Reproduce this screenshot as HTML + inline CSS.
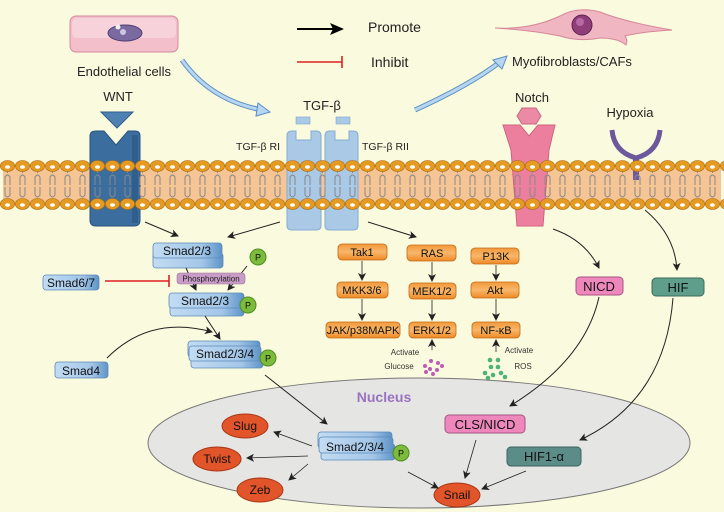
<!DOCTYPE html>
<html><head><meta charset="utf-8"><style>
html,body{margin:0;padding:0;background:#fafade;}
svg{display:block;font-family:"Liberation Sans",sans-serif;}
</style></head><body>
<svg width="724" height="512" viewBox="0 0 724 512" xmlns="http://www.w3.org/2000/svg">
<defs>
<marker id="ah" markerWidth="8" markerHeight="8" refX="7" refY="4" orient="auto" markerUnits="userSpaceOnUse"><path d="M0,0 L8,4 L0,8 L2,4Z" fill="#222"/></marker>
<marker id="ahb" markerWidth="14" markerHeight="12" refX="12" refY="6" orient="auto" markerUnits="userSpaceOnUse"><path d="M0,0 L14,6 L0,12 L3,6Z" fill="#000"/></marker>
<linearGradient id="bl" x1="0" x2="1"><stop offset="0" stop-color="#c2dcf3"/><stop offset="0.7" stop-color="#a3c6e8"/><stop offset="1" stop-color="#5d93c7"/></linearGradient>
<linearGradient id="or" x1="0" y1="0" x2="0" y2="1"><stop offset="0" stop-color="#f39a3a"/><stop offset="0.5" stop-color="#f8b66a"/><stop offset="1" stop-color="#ef8a25"/></linearGradient>
<pattern id="headsT" x="0" y="160" width="15" height="12" patternUnits="userSpaceOnUse"><ellipse cx="7.5" cy="6" rx="7.2" ry="5.5" fill="#e59a22" stroke="#a8680c" stroke-width="0.6"/><ellipse cx="7.5" cy="7" rx="2.5" ry="1.8" fill="#fff"/></pattern>
<pattern id="headsB" x="0" y="198" width="15" height="12" patternUnits="userSpaceOnUse"><ellipse cx="7.5" cy="6" rx="7.2" ry="5.5" fill="#e59a22" stroke="#a8680c" stroke-width="0.6"/><ellipse cx="7.5" cy="7" rx="2.5" ry="1.8" fill="#fff"/></pattern>
<pattern id="tails" x="0" y="171" width="15" height="30" patternUnits="userSpaceOnUse"><path d="M5,14 V6 Q7.5,2 10,6 V14 M7.5,2 V0 M5,16 V24 Q7.5,28 10,24 V16 M7.5,28 V30" stroke="#888" stroke-width="1" fill="none"/></pattern>
</defs>
<rect width="724" height="512" fill="#fafade"/>

<!-- membrane band -->
<rect x="3" y="168" width="718" height="34" fill="#f6c596"/>

<!-- endothelial cell -->
<rect x="70" y="16" width="108" height="36" rx="6" fill="#f2bfcb" stroke="#d58a9c"/>
<rect x="72" y="18" width="104" height="20" rx="5" fill="#f7d2db"/>
<ellipse cx="125" cy="33" rx="17" ry="8" fill="#7a6aa0" stroke="#4d3e73"/>
<circle cx="118" cy="27" r="2.5" fill="#eee"/><circle cx="123" cy="32" r="3" fill="#cdc5e6"/>
<text x="124" y="76" font-size="13" text-anchor="middle" fill="#222">Endothelial cells</text>

<!-- legend -->
<line x1="297" y1="29" x2="342" y2="29" stroke="#000" stroke-width="2" marker-end="url(#ahb)"/>
<text x="368" y="32" font-size="14" fill="#222">Promote</text>
<line x1="297" y1="62" x2="342" y2="62" stroke="#e02020" stroke-width="1.6"/>
<line x1="342" y1="56" x2="342" y2="68" stroke="#e02020" stroke-width="1.6"/>
<text x="371" y="67" font-size="14" fill="#222">Inhibit</text>

<!-- blue curved arrows -->
<path d="M182,60 Q210,100 262,110" stroke="#5d8fc0" stroke-width="5" fill="none"/>
<path d="M182,60 Q210,100 262,110" stroke="#b7d6f2" stroke-width="3" fill="none"/>
<path d="M258,103 L270,112 L256,116Z" fill="#b7d6f2" stroke="#5d8fc0"/>
<path d="M415,110 Q470,85 500,62" stroke="#5d8fc0" stroke-width="5" fill="none"/>
<path d="M415,110 Q470,85 500,62" stroke="#b7d6f2" stroke-width="3" fill="none"/>
<path d="M493,60 L507,56 L502,69Z" fill="#b7d6f2" stroke="#5d8fc0"/>

<!-- myofibroblast -->
<path d="M495,28 Q530,30 560,16 Q578,6 600,12 Q625,22 672,30 Q640,32 625,36 Q628,40 626,45 Q618,38 600,38 Q578,42 560,36 Q530,30 495,28Z" fill="#f0b6c2" stroke="#d5879a"/>
<circle cx="582" cy="25" r="10" fill="#8f3e79" stroke="#5e2250"/>
<circle cx="580" cy="22" r="4" fill="#b56aa3"/>
<text x="512" y="66" font-size="13" fill="#222">Myofibroblasts/CAFs</text>

<!-- WNT -->
<text x="118" y="101" font-size="13" text-anchor="middle" fill="#222">WNT</text>
<path d="M101,112 L133,112 L117,128Z" fill="#4f82b3" stroke="#2d5b8a"/>
<path d="M90,136 Q90,131 96,131 L104,131 L116,145 L128,131 L135,131 Q140,131 140,136 L140,220 Q140,226 134,226 L96,226 Q90,226 90,220Z" fill="#3b6e9f" stroke="#27537e"/>
<rect x="132" y="135" width="6" height="88" fill="#2a5583" opacity="0.6"/>

<!-- TGF-beta receptors -->
<text x="322" y="110" font-size="13" text-anchor="middle" fill="#222">TGF-β</text>
<rect x="296" y="117" width="14" height="7" fill="#a9c9e6" stroke="#7ea6cc" stroke-width="0.6"/>
<rect x="336" y="117" width="14" height="7" fill="#a9c9e6" stroke="#7ea6cc" stroke-width="0.6"/>
<path d="M287,136 Q287,131 292,131 L296,131 L296,140 L311,140 L311,131 L316,131 Q321,131 321,136 L321,226 Q321,230 316,230 L292,230 Q287,230 287,226Z" fill="#a9c9e6" stroke="#86acd2"/>
<path d="M325,136 Q325,131 330,131 L335,131 L335,140 L349,140 L349,131 L353,131 Q358,131 358,136 L358,226 Q358,230 353,230 L330,230 Q325,230 325,226Z" fill="#a9c9e6" stroke="#86acd2"/>
<text x="280" y="150" font-size="10.5" text-anchor="end" fill="#222">TGF-β RI</text>
<text x="362" y="150" font-size="10.5" fill="#222">TGF-β RII</text>

<!-- Notch -->
<text x="532" y="102" font-size="13" text-anchor="middle" fill="#222">Notch</text>
<path d="M522,108 L536,108 L541,116 L536,124 L522,124 L517,116Z" fill="#ec8aa6" stroke="#c86784"/>
<path d="M503,125 L520,125 L529,136 L538,125 L555,125 L549,150 L543,226 L517,226 L511,150Z" fill="#ec7f9e" stroke="#d0637f"/>

<!-- Hypoxia -->
<text x="630" y="117" font-size="13" text-anchor="middle" fill="#222">Hypoxia</text>
<path d="M612,130 Q614,152 636,158 Q658,152 660,130" stroke="#6d589c" stroke-width="5" fill="none"/>
<line x1="636" y1="156" x2="636" y2="180" stroke="#6d589c" stroke-width="6"/>

<!-- membrane tails & heads on top -->
<rect x="3" y="171" width="718" height="30" fill="url(#tails)"/>
<rect x="0" y="160" width="724" height="12" fill="url(#headsT)"/>
<rect x="0" y="198" width="724" height="12" fill="url(#headsB)"/>

<!-- arrows below membrane -->
<line x1="145" y1="222" x2="178" y2="236" stroke="#222" marker-end="url(#ah)"/>
<line x1="280" y1="222" x2="228" y2="237" stroke="#222" marker-end="url(#ah)"/>
<line x1="368" y1="222" x2="416" y2="237" stroke="#222" marker-end="url(#ah)"/>
<path d="M553,229 Q585,240 599,268" stroke="#222" fill="none" marker-end="url(#ah)"/>
<path d="M645,210 Q675,235 677,270" stroke="#222" fill="none" marker-end="url(#ah)"/>

<!-- Smad column -->
<rect x="153" y="253" width="70" height="15" rx="3" fill="url(#bl)" stroke="#5d89b8" stroke-width="0.8"/>
<rect x="153" y="243" width="69" height="15" rx="3" fill="url(#bl)" stroke="#5d89b8" stroke-width="0.8"/>
<text x="187" y="255" font-size="12" text-anchor="middle" fill="#111">Smad2/3</text>
<circle cx="258" cy="257" r="8" fill="#7dbb3c" stroke="#4f8d20"/>
<text x="258" y="260.5" font-size="9" text-anchor="middle" fill="#111">P</text>
<line x1="186" y1="268" x2="196" y2="290" stroke="#222" marker-end="url(#ah)"/>
<line x1="247" y1="266" x2="228" y2="290" stroke="#222" marker-end="url(#ah)"/>
<rect x="177" y="273" width="68" height="11" rx="3" fill="#c99bc7" stroke="#9c6f9a" stroke-width="0.6"/>
<text x="211" y="281.5" font-size="8" text-anchor="middle" fill="#222">Phosphorylation</text>
<rect x="43" y="275" width="56" height="15" rx="3" fill="url(#bl)" stroke="#5d89b8" stroke-width="0.8"/>
<text x="71" y="287" font-size="12" text-anchor="middle" fill="#111">Smad6/7</text>
<line x1="105" y1="281" x2="169" y2="281" stroke="#e02020" stroke-width="1.6"/>
<line x1="169" y1="275" x2="169" y2="287" stroke="#e02020" stroke-width="1.6"/>
<rect x="170" y="302" width="74" height="14" rx="3" fill="url(#bl)" stroke="#5d89b8" stroke-width="0.8"/>
<rect x="169" y="293" width="75" height="15" rx="3" fill="url(#bl)" stroke="#5d89b8" stroke-width="0.8"/>
<text x="205" y="305" font-size="12" text-anchor="middle" fill="#111">Smad2/3</text>
<circle cx="248" cy="305" r="8" fill="#7dbb3c" stroke="#4f8d20"/>
<text x="248" y="308.5" font-size="9" text-anchor="middle" fill="#111">P</text>
<line x1="205" y1="316" x2="220" y2="339" stroke="#222" marker-end="url(#ah)"/>
<path d="M107,358 Q150,315 212,332" stroke="#222" fill="none" marker-end="url(#ah)"/>
<rect x="188" y="341" width="72" height="16" rx="3" fill="url(#bl)" stroke="#5d89b8" stroke-width="0.8"/>
<rect x="191" y="353" width="72" height="15" rx="3" fill="url(#bl)" stroke="#5d89b8" stroke-width="0.8"/>
<rect x="189" y="346" width="72" height="15" rx="3" fill="url(#bl)" stroke="#5d89b8" stroke-width="0.8"/>
<text x="225" y="358" font-size="12" text-anchor="middle" fill="#111">Smad2/3/4</text>
<circle cx="268" cy="358" r="8" fill="#7dbb3c" stroke="#4f8d20"/>
<text x="268" y="361.5" font-size="9" text-anchor="middle" fill="#111">P</text>
<rect x="55" y="362" width="53" height="16" rx="3" fill="url(#bl)" stroke="#5d89b8" stroke-width="0.8"/>
<text x="81" y="375" font-size="12" text-anchor="middle" fill="#111">Smad4</text>

<!-- orange cascades -->
<g font-size="11" text-anchor="middle" fill="#111" stroke-width="0.8">
<rect x="338" y="244" width="49" height="16" rx="4" fill="url(#or)" stroke="#c06a14"/><text x="362" y="256">Tak1</text>
<rect x="337" y="282" width="51" height="16" rx="4" fill="url(#or)" stroke="#c06a14"/><text x="362" y="294">MKK3/6</text>
<rect x="326" y="322" width="74" height="16" rx="4" fill="url(#or)" stroke="#c06a14"/><text x="363" y="334">JAK/p38MAPK</text>
<rect x="407" y="245" width="49" height="16" rx="4" fill="url(#or)" stroke="#c06a14"/><text x="432" y="257">RAS</text>
<rect x="409" y="283" width="47" height="16" rx="4" fill="url(#or)" stroke="#c06a14"/><text x="432" y="295">MEK1/2</text>
<rect x="409" y="322" width="47" height="16" rx="4" fill="url(#or)" stroke="#c06a14"/><text x="432" y="334">ERK1/2</text>
<rect x="471" y="248" width="48" height="16" rx="4" fill="url(#or)" stroke="#c06a14"/><text x="496" y="260">P13K</text>
<rect x="471" y="282" width="48" height="16" rx="4" fill="url(#or)" stroke="#c06a14"/><text x="495" y="294">Akt</text>
<rect x="472" y="322" width="48" height="16" rx="4" fill="url(#or)" stroke="#c06a14"/><text x="496" y="334">NF-κB</text>
</g>
<g stroke="#222" stroke-width="0.8">
<line x1="362" y1="261" x2="362" y2="280" marker-end="url(#ah)"/>
<line x1="362" y1="299" x2="362" y2="320" marker-end="url(#ah)"/>
<line x1="432" y1="262" x2="432" y2="281" marker-end="url(#ah)"/>
<line x1="432" y1="300" x2="432" y2="320" marker-end="url(#ah)"/>
<line x1="496" y1="265" x2="496" y2="280" marker-end="url(#ah)"/>
<line x1="496" y1="299" x2="496" y2="320" marker-end="url(#ah)"/>
<line x1="432" y1="350" x2="432" y2="340" marker-end="url(#ah)"/>
<line x1="496" y1="352" x2="496" y2="340" marker-end="url(#ah)"/>
</g>
<text x="405" y="355" font-size="8" text-anchor="middle" fill="#333">Activate</text>
<text x="399" y="369" font-size="8" text-anchor="middle" fill="#333">Glucose</text>
<g fill="#c05ab8"><circle cx="425" cy="366" r="2"/><circle cx="431" cy="361" r="2"/><circle cx="438" cy="363" r="2"/><circle cx="430" cy="369" r="2"/><circle cx="437" cy="370" r="2"/><circle cx="442" cy="366" r="2"/><circle cx="433" cy="374" r="2"/><circle cx="426" cy="372" r="2"/></g>
<text x="519" y="353" font-size="8" text-anchor="middle" fill="#333">Activate</text>
<text x="523" y="369" font-size="8" text-anchor="middle" fill="#333">ROS</text>
<g fill="#4fb377"><circle cx="490" cy="360" r="2.3"/><circle cx="498" cy="360" r="2.3"/><circle cx="491" cy="367" r="2.3"/><circle cx="498" cy="367" r="2.3"/><circle cx="485" cy="373" r="2.3"/><circle cx="493" cy="375" r="2.3"/><circle cx="501" cy="373" r="2.3"/><circle cx="488" cy="378" r="2.3"/><circle cx="505" cy="377" r="2.3"/></g>

<!-- NICD / HIF -->
<rect x="576" y="277" width="47" height="18" rx="4" fill="#ee88bc" stroke="#a75483"/>
<text x="599" y="291" font-size="13" text-anchor="middle" fill="#111">NICD</text>
<rect x="652" y="278" width="52" height="18" rx="4" fill="#5f9e8a" stroke="#3d6d5e"/>
<text x="678" y="292" font-size="13" text-anchor="middle" fill="#111">HIF</text>

<!-- nucleus -->
<ellipse cx="419" cy="443" rx="271" ry="65" fill="#e5e5e3" stroke="#777" stroke-width="1"/>
<text x="384" y="402" font-size="14" font-weight="bold" fill="#9a72c2" text-anchor="middle">Nucleus</text>
<path d="M599,297 Q585,360 510,406" stroke="#222" fill="none" marker-end="url(#ah)"/>
<path d="M673,298 Q665,400 580,440" stroke="#222" fill="none" marker-end="url(#ah)"/>
<line x1="265" y1="375" x2="327" y2="424" stroke="#222" marker-end="url(#ah)"/>
<g font-size="12" text-anchor="middle" fill="#111">
<ellipse cx="245" cy="426" rx="23" ry="12" fill="#e2542a" stroke="#a83715"/><text x="245" y="430">Slug</text>
<ellipse cx="217" cy="459" rx="24" ry="12" fill="#e2542a" stroke="#a83715"/><text x="217" y="463">Twist</text>
<ellipse cx="260" cy="490" rx="23" ry="12" fill="#e2542a" stroke="#a83715"/><text x="260" y="494">Zeb</text>
<ellipse cx="457" cy="495" rx="23" ry="12" fill="#e2542a" stroke="#a83715"/><text x="457" y="499">Snail</text>
</g>
<rect x="318" y="432" width="74" height="16" rx="3" fill="url(#bl)" stroke="#5d89b8" stroke-width="0.8"/>
<rect x="321" y="444" width="74" height="16" rx="3" fill="url(#bl)" stroke="#5d89b8" stroke-width="0.8"/>
<rect x="319" y="437" width="74" height="16" rx="3" fill="url(#bl)" stroke="#5d89b8" stroke-width="0.8"/>
<text x="355" y="451" font-size="12" text-anchor="middle" fill="#111">Smad2/3/4</text>
<circle cx="401" cy="453" r="8" fill="#7dbb3c" stroke="#4f8d20"/>
<text x="401" y="456.5" font-size="9" text-anchor="middle" fill="#111">P</text>
<g stroke="#222" stroke-width="0.8">
<line x1="312" y1="446" x2="274" y2="432" marker-end="url(#ah)"/>
<line x1="308" y1="456" x2="247" y2="458" marker-end="url(#ah)"/>
<line x1="308" y1="464" x2="289" y2="480" marker-end="url(#ah)"/>
<line x1="408" y1="472" x2="438" y2="488" marker-end="url(#ah)"/>
<line x1="476" y1="440" x2="465" y2="478" marker-end="url(#ah)"/>
<line x1="526" y1="471" x2="482" y2="489" marker-end="url(#ah)"/>
</g>
<rect x="445" y="415" width="80" height="18" rx="4" fill="#ee88bc" stroke="#a75483"/>
<text x="485" y="429" font-size="13" text-anchor="middle" fill="#111">CLS/NICD</text>
<rect x="507" y="447" width="74" height="19" rx="4" fill="#5c8c88" stroke="#3b6360"/>
<text x="544" y="461" font-size="13" text-anchor="middle" fill="#111">HIF1-α</text>
</svg>
</body></html>
